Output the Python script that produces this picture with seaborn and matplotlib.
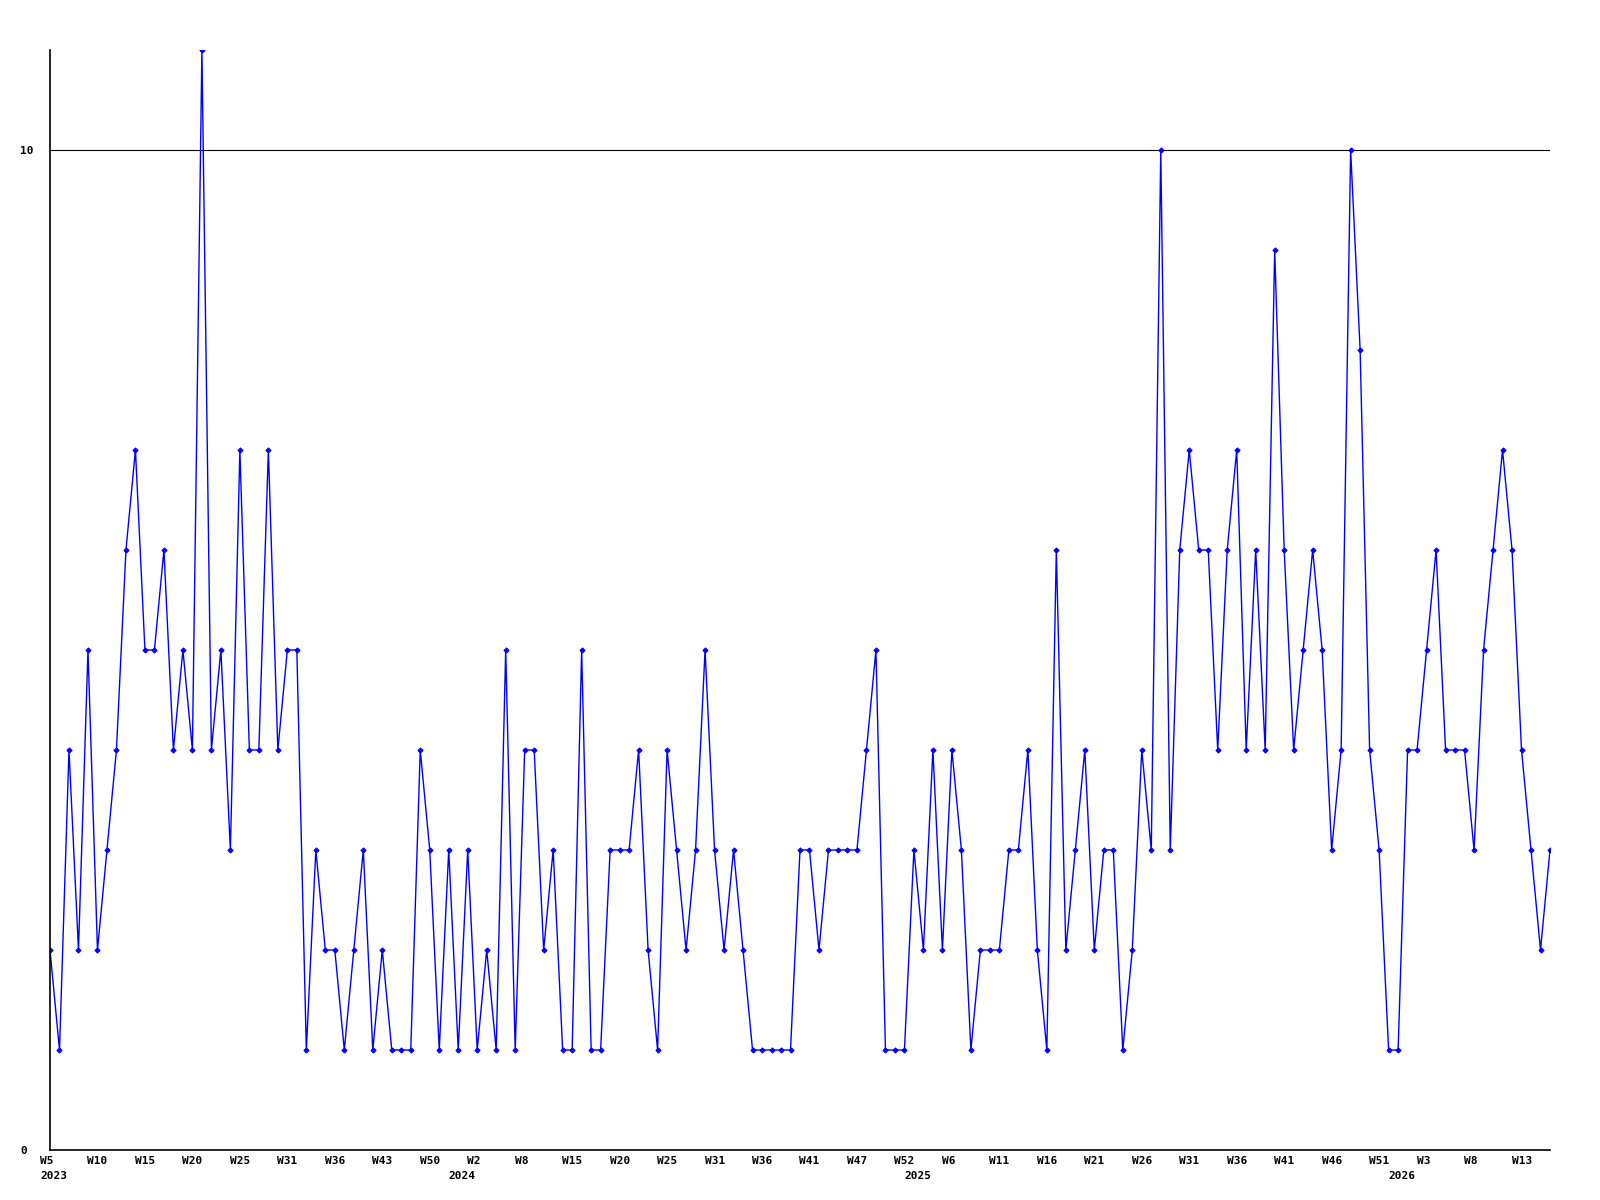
import matplotlib
matplotlib.use("Agg")
import matplotlib.pyplot as plt
import seaborn as sns
import pandas as pd

values = [
    2, 1, 4, 2, 5, 2, 3, 4, 6, 7,
    5, 5, 6, 4, 5, 4, 11, 4, 5, 3,
    7, 4, 4, 7, 4, 5, 5, 1, 3, 2,
    2, 1, 2, 3, 1, 2, 1, 1, 1, 4,
    3, 1, 3, 1, 3, 1, 2, 1, 5, 1,
    4, 4, 2, 3, 1, 1, 5, 1, 1, 3,
    3, 3, 4, 2, 1, 4, 3, 2, 3, 5,
    3, 2, 3, 2, 1, 1, 1, 1, 1, 3,
    3, 2, 3, 3, 3, 3, 4, 5, 1, 1,
    1, 3, 2, 4, 2, 4, 3, 1, 2, 2,
    2, 3, 3, 4, 2, 1, 6, 2, 3, 4,
    2, 3, 3, 1, 2, 4, 3, 10, 3, 6,
    7, 6, 6, 4, 6, 7, 4, 6, 4, 9,
    6, 4, 5, 6, 5, 3, 4, 10, 8, 4,
    3, 1, 1, 4, 4, 5, 6, 4, 4, 4,
    3, 5, 6, 7, 6, 4, 3, 2, 3,
]

tick_weeks = [
    "W5", "W10", "W15", "W20", "W25", "W31", "W36", "W43", "W50",
    "W2", "W8", "W15", "W20", "W25", "W31", "W36", "W41", "W47", "W52",
    "W6", "W11", "W16", "W21", "W26", "W31", "W36", "W41", "W46", "W51",
    "W3", "W8", "W13",
]
year_labels = ["2023", "2024", "2025", "2026"]
year_start_idx = [0, 43, 91, 142]
y_ticks = [0, 10]

df = pd.DataFrame({"idx": range(len(values)), "value": values})

sns.set_style("white")
plt.rcParams["font.family"] = ["DejaVu Sans Mono"]
plt.rcParams["text.color"] = "black"
plt.rcParams["ytick.color"] = "black"
plt.rcParams["xtick.color"] = "black"

fig = plt.figure(figsize=(16, 12), dpi=100)
ax = fig.add_axes([50 / 1600, 50 / 1200, 1500 / 1600, 1100 / 1200])

sns.lineplot(data=df, x="idx", y="value", ax=ax, color="#0000ff",
             linewidth=1.0, marker="D", markersize=2.6,
             markeredgecolor="#0000ff", markerfacecolor="#0000ff")

ax.set_xlim(0, len(values) - 1)
ax.set_ylim(0, 11)
ax.axhline(10, color="black", linewidth=0.8, zorder=0)

ax.set_yticks(y_ticks)
ax.set_yticklabels([str(v) for v in y_ticks], fontsize=8, fontweight="bold",
                   color="black")
for lab in ax.get_yticklabels():
    lab.set_horizontalalignment("left")
ax.tick_params(axis="y", length=0, pad=21.6)

tick_pos = [i * 5 for i in range(len(tick_weeks))]
ax.set_xticks(tick_pos)
ax.set_xticklabels([])
ax.tick_params(axis="x", length=0)

for pos, w in zip(tick_pos, tick_weeks):
    ax.annotate(w, xy=(pos, 0), xycoords=("data", "axes fraction"),
                xytext=(-10, -6), textcoords="offset pixels",
                ha="left", va="top", fontsize=8, fontweight="bold",
                color="black", annotation_clip=False)
for pos, yl in zip(year_start_idx, year_labels):
    ax.annotate(yl, xy=(pos, 0), xycoords=("data", "axes fraction"),
                xytext=(-10, -21), textcoords="offset pixels",
                ha="left", va="top", fontsize=8, fontweight="bold",
                color="black", annotation_clip=False)

ax.set_xlabel("")
ax.set_ylabel("")
for s in ["top", "right"]:
    ax.spines[s].set_visible(False)
for s in ["left", "bottom"]:
    ax.spines[s].set_color("black")
    ax.spines[s].set_linewidth(1.2)

fig.savefig("out.png", dpi=100, facecolor="white")
